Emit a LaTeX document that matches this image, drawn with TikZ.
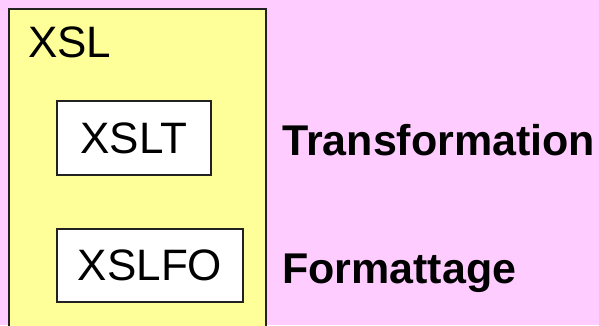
\documentclass[tikz,border=0pt]{standalone}
\usepackage{fontspec}
\setmainfont{Liberation Sans}
\definecolor{bgpink}{HTML}{FFCCFF}
\definecolor{boxyellow}{HTML}{FFFF99}
\definecolor{edgegray}{HTML}{222222}
\tikzset{
  bigtext/.style={font=\fontsize{44}{50}\selectfont, inner sep=0pt},
  boldlabel/.style={font=\fontsize{43}{50}\selectfont\bfseries, inner sep=0pt, anchor=base west},
  whitebox/.style={draw=edgegray, line width=1.3pt, fill=white, inner sep=0pt,
                   font=\fontsize{44}{50}\selectfont},
}
\begin{document}
\begin{tikzpicture}[x=1pt,y=-1pt]
  \useasboundingbox (0,0) rectangle (599,325);
  \fill[bgpink] (0,0) rectangle (599,325);
  \clip (0,0) rectangle (599,325);
  \draw[draw=edgegray, line width=1.3pt, fill=boxyellow] (9,9) rectangle (266,340);
  \node[bigtext, anchor=base west] (xsl) at (28,57) {XSL};
  \node[whitebox, minimum width=154pt, minimum height=74pt] (xslt) at (134,138) {XSLT};
  \node[whitebox, minimum width=186pt, minimum height=73pt] (xslfo) at (150,265.5) {XSLFO};
  \node[boldlabel] (trans) at (282,155) {Transformation};
  \node[boldlabel] (form) at (282,283) {Formattage};
\end{tikzpicture}
\end{document}
